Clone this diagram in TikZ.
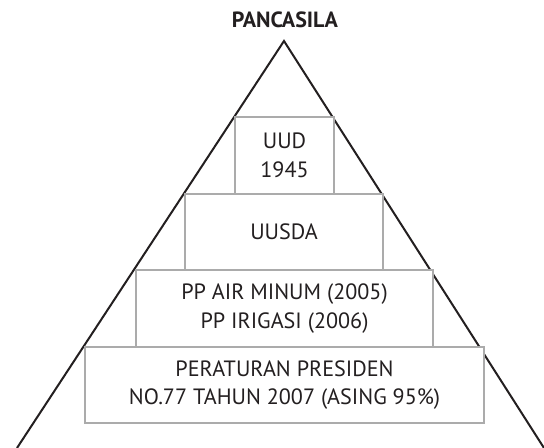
\documentclass[tikz,border=0pt]{standalone}
\usepackage{fontspec}
\setmainfont{PT Sans}
\definecolor{boxgray}{HTML}{ABABAB}
\definecolor{inkdark}{HTML}{231F20}
\begin{document}
\begin{tikzpicture}[x=0.75pt,y=-0.75pt,
  tier/.style={draw=boxgray, line width=1.1pt, fill=white, inner sep=0pt,
    align=center, text=inkdark, font=\fontsize{16.6}{21.4}\selectfont},
  edge/.style={draw=inkdark, line width=1.5pt, line join=miter}]
\useasboundingbox (0,0) rectangle (544,448);
\node[font=\bfseries\fontsize{16.5}{18}\selectfont, text=inkdark, anchor=base] (title) at (285,27.5) {PANCASILA};
\coordinate (apex) at (284,41);
\coordinate (baseL) at (17,448);
\coordinate (baseR) at (544,448);
\draw[edge] (baseL) -- (apex) -- (baseR);
\node[tier, minimum width=99*0.75pt, minimum height=77*0.75pt] (uud) at (284.5,155.5) {UUD\\1945};
\node[tier, minimum width=198*0.75pt, minimum height=76*0.75pt] (uusda) at (284,232) {UUSDA};
\node[tier, minimum width=297*0.75pt, minimum height=77*0.75pt] (pp) at (284.5,308.5) {PP AIR MINUM (2005)\\PP IRIGASI (2006)};
\node[tier, minimum width=399*0.75pt, minimum height=76*0.75pt] (perpres) at (284.5,385) {PERATURAN PRESIDEN\\NO.77 TAHUN 2007 (ASING 95\%)};
\end{tikzpicture}
\end{document}
